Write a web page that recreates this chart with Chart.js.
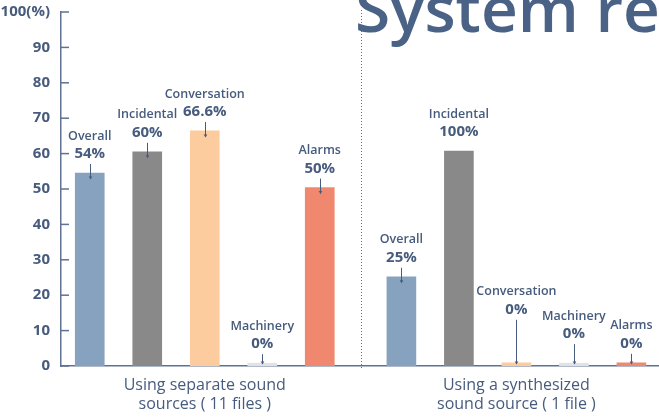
<!DOCTYPE html>
<html>
<head>
<meta charset="utf-8">
<script src="https://cdn.jsdelivr.net/npm/chart.js@4.4.1/dist/chart.umd.min.js"></script>
<style>
  html, body { margin: 0; padding: 0; background: #fff; }
  #wrap { width: 659px; height: 420px; }
</style>
</head>
<body>
<div id="wrap"><canvas id="chart"></canvas></div>
<script>
const groupNames = [
  ['Using separate sound', 'sources ( 11 files )'],
  ['Using a synthesized', 'sound source ( 1 file )']
]
const categories = ['Overall', 'Incidental', 'Conversation', 'Machinery', 'Alarms']
const separateValues = [54.5, 60.5, 66.4, 0.8, 50.4]
const synthesizedValues = [25.2, 60.7, 0.9, 0.8, 0.9]
const separateLabels = ['54%', '60%', '66.6%', '0%', '50%']
const synthesizedLabels = ['25%', '100%', '0%', '0%', '0%']
const yTicks = [0, 10, 20, 30, 40, 50, 60, 70, 80, 90, 100]

// layout bits (not data)
const colors = ['#87a2bf', '#898989', '#fccb9e', '#e2e2e2', '#f0886f']
const groupStart = [0, 5.42]
const labelLift = [[0, 0, 0, 0, 0], [0, 0, 34, 10, 0]]
const showArrow = [[true, true, true, true, true], [true, false, true, true, true]]
const ink = '#465b7d'
const axisColor = '#5f7292'
const FONT = '"Open Sans", "Noto Sans", sans-serif'

const series = [separateValues, synthesizedValues]
const valueLabels = [separateLabels, synthesizedLabels]

const points = []
series.forEach((vals, g) => {
  vals.forEach((v, i) => points.push({ x: groupStart[g] + i + 0.5, y: v, g: g, i: i }))
})

const ctx = document.getElementById('chart')

const decorations = {
  id: 'decorations',
  beforeDatasetsDraw(chart) {
    const { ctx, chartArea, scales: { x, y } } = chart
    ctx.save()
    // y ticks point inwards
    ctx.strokeStyle = axisColor
    ctx.lineWidth = 1.5
    y.ticks.forEach(t => {
      const ty = y.getPixelForValue(t.value)
      ctx.beginPath()
      ctx.moveTo(chartArea.left, ty)
      ctx.lineTo(chartArea.left + 8, ty)
      ctx.stroke()
    })
    // dotted divider half way between the groups
    const dx = Math.round(x.getPixelForValue((groupStart[0] + 5 + groupStart[1]) / 2)) + 0.5
    ctx.lineWidth = 1
    ctx.setLineDash([1, 2])
    ctx.beginPath()
    ctx.moveTo(dx, 10)
    ctx.lineTo(dx, y.getPixelForValue(0) + 3)
    ctx.stroke()
    ctx.restore()
  },
  afterDatasetsDraw(chart) {
    const { ctx, scales: { x, y } } = chart
    const meta = chart.getDatasetMeta(0)
    ctx.save()
    ctx.textAlign = 'center'
    ctx.textBaseline = 'middle'
    meta.data.forEach((bar, k) => {
      const p = points[k]
      const top = bar.y
      const vy = top - 19 - labelLift[p.g][p.i]
      ctx.fillStyle = ink
      ctx.font = '600 12.5px ' + FONT
      ctx.fillText(categories[p.i], bar.x, vy - 18)
      ctx.font = 'bold 15px ' + FONT
      ctx.fillText(valueLabels[p.g][p.i], bar.x, vy)
      if (showArrow[p.g][p.i]) {
        const ax = Math.round(bar.x) + 0.5
        const end = Math.min(top + 6, y.getPixelForValue(0) - 2)
        ctx.strokeStyle = ink
        ctx.lineWidth = 1
        ctx.beginPath()
        ctx.moveTo(ax, vy + 10)
        ctx.lineTo(ax, end)
        ctx.stroke()
        ctx.beginPath()
        ctx.moveTo(ax - 1.8, end - 2.5)
        ctx.lineTo(ax + 1.8, end - 2.5)
        ctx.lineTo(ax, end + 0.5)
        ctx.closePath()
        ctx.fillStyle = ink
        ctx.fill()
      }
    })
    // group names under the axis
    ctx.fillStyle = ink
    ctx.font = '500 16px ' + FONT
    groupNames.forEach((lines, g) => {
      const cx = x.getPixelForValue(groupStart[g] + 2.5)
      lines.forEach((t, j) => ctx.fillText(t, cx, 385 + j * 19))
    })
    ctx.restore()
  },
  afterDraw(chart) {
    const { ctx } = chart
    ctx.save()
    ctx.fillStyle = '#4a6285'
    ctx.font = '600 64px ' + FONT
    ctx.textAlign = 'left'
    ctx.textBaseline = 'alphabetic'
    ctx.fillText('System re', 355, 32)
    ctx.restore()
  }
}

new Chart(ctx, {
  type: 'bar',
  data: {
    datasets: [{
      data: points,
      backgroundColor: points.map(p => colors[p.i]),
      barThickness: 29,
      borderWidth: 0
    }]
  },
  options: {
    responsive: true,
    maintainAspectRatio: false,
    animation: false,
    layout: { padding: { top: 9, bottom: 46, right: 0, left: 0 } },
    plugins: {
      legend: { display: false },
      tooltip: { enabled: false }
    },
    scales: {
      x: {
        type: 'linear',
        min: 0,
        max: 10.4,
        offset: false,
        grid: { display: false, offset: false },
        border: { color: axisColor, width: 1.5 },
        ticks: { display: false }
      },
      y: {
        min: 0,
        max: 100,
        afterBuildTicks: (scale) => { scale.ticks = yTicks.map(v => ({ value: v })) },
        afterFit: (scale) => { scale.width = 61 },
        border: { color: axisColor, width: 1.5 },
        grid: { display: false },
        ticks: {
          color: ink,
          padding: 3,
          font: { family: FONT, size: 15, weight: 'bold' },
          callback: (v) => v === 100 ? '100(%)' : v
        }
      }
    }
  },
  plugins: [decorations]
})
</script>
</body>
</html>
